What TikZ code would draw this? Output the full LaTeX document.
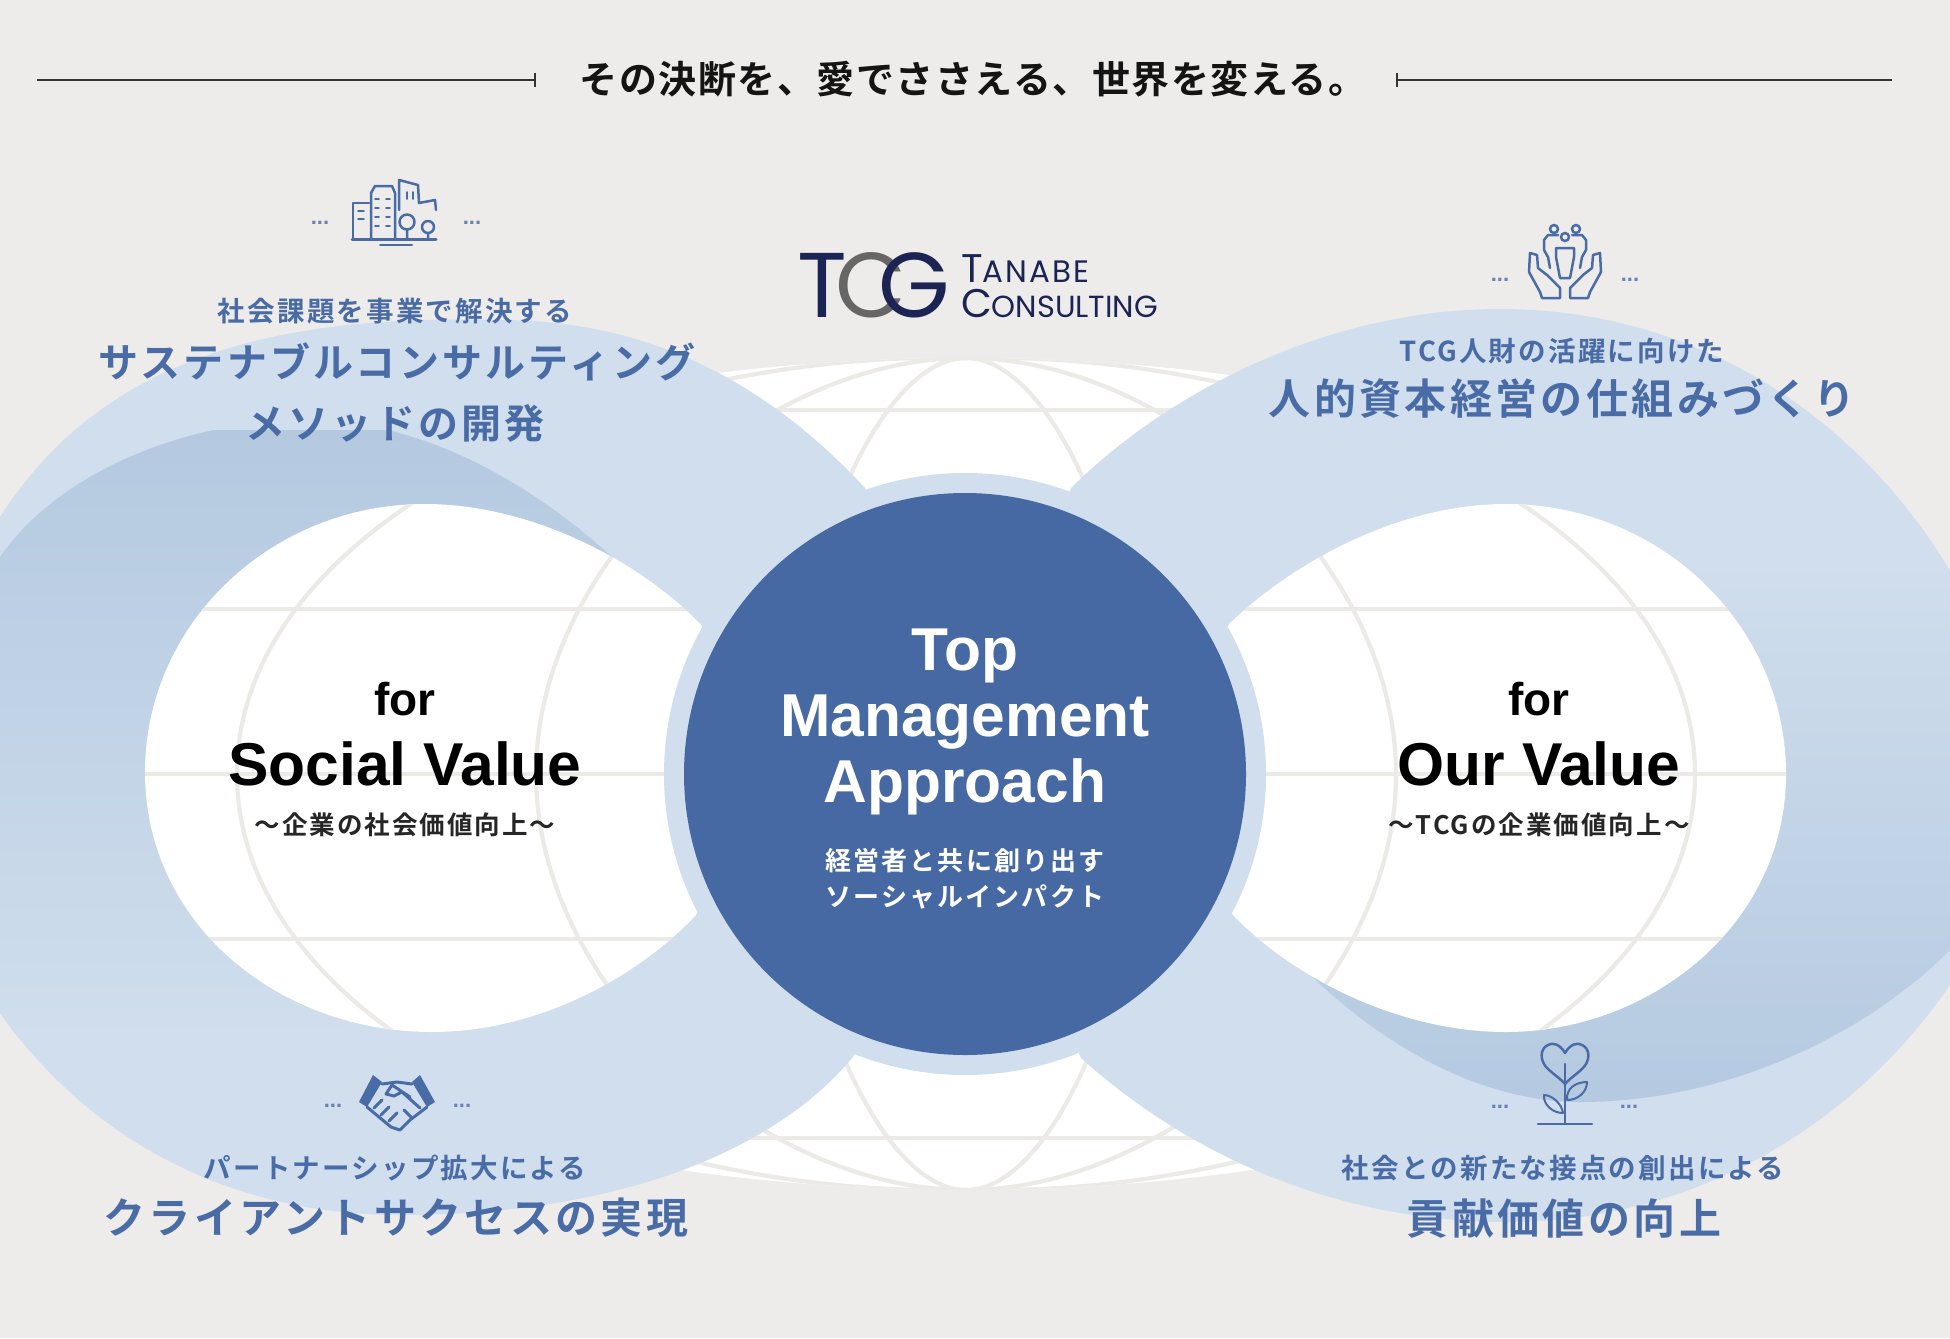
\documentclass[tikz,border=0pt]{standalone}
\usepackage{fontspec}
\setmainfont{Liberation Sans}
\newfontfamily\jpb[LetterSpace=8]{Noto Sans CJK JP Bold}
\newfontfamily\jpt[LetterSpace=4]{Noto Sans CJK JP Bold}
\newfontfamily\popp{Poppins}
\newfontfamily\poppw[LetterSpace=7]{Poppins}
\definecolor{bgc}{HTML}{EDECEA}
\definecolor{rib}{HTML}{D0DEED}
\definecolor{ribd}{HTML}{B4C9E0}
\definecolor{core}{HTML}{4669A3}
\definecolor{blu}{HTML}{4A6CA6}
\definecolor{gl}{HTML}{ECEAE7}
\definecolor{navy}{HTML}{1C2454}
\tikzset{
  holeL/.style={insert path={(702,626) .. controls (645,565) and (535,504) .. (425,504) .. controls (270,504) and (145,625) .. (145,772) .. controls (145,925) and (280,1032) .. (432,1032) .. controls (540,1032) and (640,975) .. (696,915) -- (760,774) -- cycle}},
  holeR/.style={insert path={(1229,624) .. controls (1290,565) and (1396,504) .. (1506,504) .. controls (1660,504) and (1786,625) .. (1786,774) .. controls (1786,925) and (1650,1032) .. (1506,1032) .. controls (1396,1032) and (1290,975) .. (1233,915) -- (1170,774) -- cycle}},
  lobeL/.style={insert path={(865,488) .. controls (760,375) and (640,320) .. (500,320) .. controls (300,315) and (110,345) .. (0,517) -- (-20,545) -- (-20,985) -- (0,1013) .. controls (90,1140) and (230,1215) .. (400,1215) .. controls (630,1215) and (780,1145) .. (853,1057) -- (965,774) -- cycle}},
  lobeR/.style={insert path={(1071,488) .. controls (1170,390) and (1330,309) .. (1500,309) .. controls (1700,309) and (1860,420) .. (1950,571) -- (1975,620) -- (1975,960) -- (1950,985) .. controls (1850,1130) and (1690,1222) .. (1507,1222) .. controls (1350,1222) and (1200,1165) .. (1081,1058) -- (965,774) -- cycle}},
  gline/.style={draw=gl,line width=4.2pt},
  icon/.style={draw=blu,line width=2.5pt,line join=round,line cap=round},
  txt/.style={inner sep=0pt,outer sep=0pt,align=center},
  blued/.style={txt,text=blu},
  rule/.style={draw=black!80,line width=1.6pt}
}
\newcommand{\fs}[1]{\fontsize{#1}{#1}\selectfont}
\newcommand{\globelines}{%
  \foreach \yy in {410,609,774,939,1138}{\path[gline] (0,\yy) -- (1950,\yy);}
  \path[gline] (966,358) .. controls (620,350) and (237,520) .. (237,774) .. controls (237,1028) and (620,1198) .. (966,1190);
  \path[gline] (966,358) .. controls (760,358) and (536,560) .. (536,774) .. controls (536,988) and (760,1190) .. (966,1190);
  \path[gline] (966,358) .. controls (880,358) and (790,560) .. (790,774) .. controls (790,988) and (880,1190) .. (966,1190);
  \path[gline] (966,358) .. controls (1312,350) and (1695,520) .. (1695,774) .. controls (1695,1028) and (1312,1198) .. (966,1190);
  \path[gline] (966,358) .. controls (1172,358) and (1396,560) .. (1396,774) .. controls (1396,988) and (1172,1190) .. (966,1190);
  \path[gline] (966,358) .. controls (1052,358) and (1142,560) .. (1142,774) .. controls (1142,988) and (1052,1190) .. (966,1190);
}
\begin{document}
\begin{tikzpicture}[x=1pt,y=-1pt]
\useasboundingbox (0,0) rectangle (1950,1338);
\clip (0,0) rectangle (1950,1338);
\fill[bgc] (0,0) rectangle (1950,1338);
% globe
\begin{scope}
  \clip (966,774) ellipse [x radius=928pt,y radius=416pt];
  \fill[white] (0,0) rectangle (1950,1338);
  \globelines
\end{scope}
% ribbons
\fill[rib,lobeL];
\fill[rib,lobeR];
\begin{scope}
  \clip[lobeL];
  \clip (-20,575) -- (0,557) .. controls (60,470) and (190,420) .. (306,420) .. controls (420,420) and (530,480) .. (622,566) -- (540,700) -- (300,1100) -- (-20,1100) -- cycle;
  \shade[top color=ribd,bottom color=rib] (-30,430) rectangle (740,1040);
\end{scope}
\begin{scope}
  \clip[lobeR];
  \clip (1300,965) .. controls (1390,1055) and (1490,1102) .. (1580,1102) .. controls (1720,1102) and (1860,1040) .. (1950,950) -- (1975,925) -- (1975,500) -- (1650,500) -- (1400,800) -- cycle;
  \shade[top color=rib,bottom color=ribd] (1280,560) rectangle (1980,1110);
\end{scope}
% holes
\begin{scope}
  \clip[holeL];
  \fill[white] (0,0) rectangle (1950,1338);
  \globelines
\end{scope}
\begin{scope}
  \clip[holeR];
  \fill[white] (0,0) rectangle (1950,1338);
  \globelines
\end{scope}
% centre
\fill[rib] (965,774) circle (301pt);
\node[circle,fill=core,minimum size=562pt,inner sep=0pt] (core) at (965,774) {};
% title
\coordinate (rlA) at (37,80); \coordinate (rlB) at (535,80);
\coordinate (rrA) at (1397,80); \coordinate (rrB) at (1892,80);
\path[rule] (rlA) -- (rlB);
\path[rule] (rrA) -- (rrB);
\path[rule,line width=1.2pt] (535,73) -- (535,87);
\path[rule,line width=1.2pt] (1397,73) -- (1397,87);
\node[txt] (title) at (973,79) {\jpt\fs{38}\textcolor{black!92}{その決断を、愛でささえる、世界を変える。}};
% logo
\node[txt,anchor=base,text=navy] (logoT) at (822,317) {\popp\fs{92}T};
\node[txt,anchor=base,text=black!60] (logoC) at (871,317) {\popp\fs{92}C};
\node[txt,anchor=base,text=navy] (logoG) at (914,317) {\popp\fs{92}G};
\node[txt,anchor=base west,text=navy] (logoA) at (961,282) {\poppw\fs{40}T\fs{31}ANABE};
\node[txt,anchor=base west,text=navy] (logoB) at (961,317) {\popp\fs{40}C\fs{30.5}ONSULTING};
% centre text
\node[txt,anchor=base,text=white] (c1) at (965,670) {\fs{60.5}\bfseries Top};
\node[txt,anchor=base,text=white] (c2) at (965,736) {\fs{60.5}\bfseries Management};
\node[txt,anchor=base,text=white] (c3) at (965,802) {\fs{60.5}\bfseries Approach};
\node[txt,text=white] (c4) at (965,861) {\jpb\fs{26}経営者と共に創り出す};
\node[txt,text=white] (c5) at (965,897) {\jpb\fs{26}ソーシャルインパクト};
% left value
\node[txt,anchor=base,text=black] (l1) at (405,715) {\fs{46}\bfseries for};
\node[txt,anchor=base,text=black] (l2) at (405,785) {\fs{60.5}\bfseries Social Value};
\node[txt,text=black!85] (l3) at (405,825) {\jpb\fs{25.5}〜企業の社会価値向上〜};
% right value
\node[txt,anchor=base,text=black] (r1) at (1539,715) {\fs{46}\bfseries for};
\node[txt,anchor=base,text=black] (r2) at (1539,785) {\fs{60.5}\bfseries Our Value};
\node[txt,text=black!85] (r3) at (1539,825) {\jpb\fs{25.5}〜TCGの企業価値向上〜};
% blue labels
\node[blued] (a1) at (395,311) {\jpb\fs{27.5}社会課題を事業で解決する};
\node[blued] (a2) at (397,362) {\jpb\fs{40}サステナブルコンサルティング};
\node[blued] (a3) at (395,423) {\jpb\fs{40}メソッドの開発};
\node[blued] (b1) at (1562,351) {\jpb\fs{27.5}TCG人財の活躍に向けた};
\node[blued] (b2) at (1562,399) {\jpb\fs{42}人的資本経営の仕組みづくり};
\node[blued] (d1) at (395,1168) {\jpb\fs{27.5}パートナーシップ拡大による};
\node[blued] (d2) at (396,1218) {\jpb\fs{42}クライアントサクセスの実現};
\node[blued] (e1) at (1563,1168) {\jpb\fs{27.5}社会との新たな接点の創出による};
\node[blued] (e2) at (1564,1219) {\jpb\fs{42}貢献価値の向上};
% dots
\foreach \nm/\xx/\yy in {p1/320/224,p2/472/224,p3/1500/281,p4/1630/281,p5/333/1107,p6/462/1107,p7/1500/1108,p8/1629/1108}
  \node[txt,anchor=base,text=blu!85] (\nm) at (\xx,\yy) {\fs{22}\bfseries ...};
% city icon
\path[icon,line width=3pt] (352,239) -- (436,239);
\path[icon,line width=2pt] (380,245) -- (412,245);
\path[icon] (353,238) -- (353,203) -- (369,203);
\path[icon] (371,238) -- (371,193) -- (375,186) -- (392,186) -- (395,193) -- (395,238);
\path[icon] (399,210) -- (399,180) -- (418,185) -- (419,203) -- (435,200) -- (436,210);
\foreach \yy in {199,208,217,226}{\path[icon,line width=1.6pt] (375,\yy) -- (379,\yy) (386,\yy) -- (390,\yy);}
\path[icon,line width=1.6pt] (358,211) -- (364,211) (358,219) -- (364,219) (407,192) -- (407,199) (413,192) -- (413,199);
\path[icon] (407,222) circle (7.5pt) (407,229.5) -- (407,238) (428,227) circle (6pt) (428,233) -- (428,238);
% hands icon
\path[icon] (1554,229) circle (4pt) (1576,229) circle (4pt) (1565,237) circle (4pt);
\path[icon] (1560,278) -- (1556,257) -- (1556,248) -- (1574,248) -- (1574,257) -- (1570,278) -- cycle;
\path[icon] (1550,268) -- (1548,257) -- (1544,250) -- (1544,240) -- (1548,235) -- (1558,235);
\path[icon] (1580,268) -- (1582,257) -- (1586,250) -- (1586,240) -- (1582,235) -- (1572,235);
\path[icon] (1530,253) -- (1529,272) -- (1540,292) -- (1542,298) -- (1560,298) -- (1560,288) -- (1547,275) -- (1538,268) -- (1537,255) -- cycle;
\path[icon] (1600,253) -- (1601,272) -- (1590,292) -- (1588,298) -- (1570,298) -- (1570,288) -- (1583,275) -- (1592,268) -- (1593,255) -- cycle;
% handshake icon
\fill[blu] (359,1102) -- (373,1075) -- (382,1082) -- (367,1107) -- cycle;
\fill[blu] (435,1102) -- (420,1075) -- (412,1082) -- (427,1107) -- cycle;
\path[icon,line width=3pt] (382,1084) -- (397,1082) -- (412,1084) (367,1107) -- (391,1127) -- (400,1130) -- (410,1120) -- (427,1107);
\path[icon,line width=3pt] (410,1097) -- (392,1085) -- (386,1094) -- (394,1096) -- (402,1092) -- (420,1108);
\path[icon,line width=3pt] (374,1108) -- (382,1100) (381,1115) -- (389,1107) (389,1121) -- (397,1113) (412,1118) -- (404,1110);
% heart icon
\path[icon] (1565,1053) .. controls (1560,1044) and (1552,1042) .. (1548,1045) .. controls (1541,1048) and (1540,1057) .. (1544,1064) .. controls (1548,1071) and (1558,1076) .. (1565,1084) .. controls (1572,1076) and (1582,1071) .. (1586,1064) .. controls (1590,1057) and (1589,1048) .. (1582,1045) .. controls (1578,1042) and (1570,1044) .. (1565,1053);
\path[icon] (1565,1064) -- (1565,1124) (1538,1124) -- (1592,1124);
\path[icon,line width=2pt] (1567,1100) .. controls (1566,1088) and (1576,1082) .. (1587,1082) .. controls (1587,1092) and (1578,1100) .. (1567,1100);
\path[icon,line width=2pt] (1563,1113) .. controls (1562,1104) and (1552,1095) .. (1544,1095) .. controls (1543,1104) and (1552,1113) .. (1563,1113);
\end{tikzpicture}
\end{document}
